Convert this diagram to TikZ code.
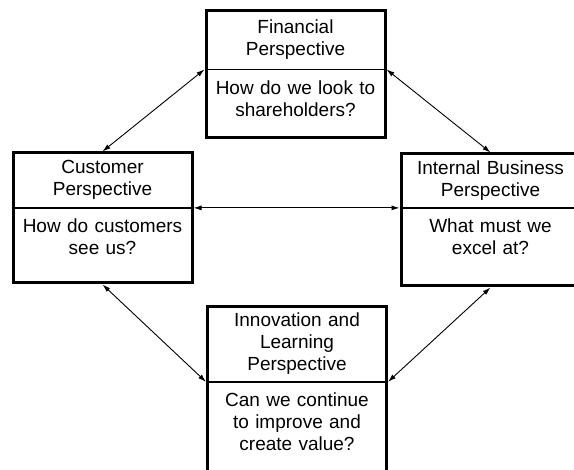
\documentclass[tikz,border=0pt]{standalone}
\usepackage{fontspec}
\setmainfont{Liberation Sans}
\usetikzlibrary{positioning, arrows.meta}
\tikzset{every node/.style={font=\fontsize{19}{22}\selectfont}}

\begin{document}
\begin{tikzpicture}[x=1pt, y=-1pt]
    % Define styles
    \tikzstyle{boxframe} = [rectangle, draw=black, line width=3pt, minimum width=179pt]
    \tikzstyle{headpart} = [rectangle, minimum width=179pt, text width=172pt, align=center, inner sep=0pt]
    \tikzstyle{askpart} = [rectangle, text width=172pt, align=center, inner xsep=0pt, inner ysep=11pt]
    \tikzstyle{divider} = [line width=1.3pt]
    \tikzstyle{arrow} = [line width=0.9pt, {Latex[length=8pt,width=5pt]}-{Latex[length=8pt,width=5pt]}]

    \useasboundingbox (0,0) rectangle (574,470);
    \clip (0,0) rectangle (574,470);

    % Top: Financial
    \node (financial) [boxframe, minimum height=127pt] at (295.5,74) {};
    \node (financial_head) [headpart, minimum height=60pt, below=0pt of financial.north] {Financial\\Perspective};
    \node (financial_ask) [askpart, below=0pt of financial_head] {How do we look to\\shareholders?};

    % Left: Customer
    \node (customer) [boxframe, minimum height=130pt] at (102.5,218) {};
    \node (customer_head) [headpart, minimum height=56pt, below=0pt of customer.north] {Customer\\Perspective};
    \node (customer_ask) [askpart, below=0pt of customer_head] {How do customers\\see us?};

    % Right: Internal Business
    \node (internal) [boxframe, minimum height=132pt] at (490.5,220) {};
    \node (internal_head) [headpart, minimum height=55pt, below=0pt of internal.north] {Internal Business\\Perspective};
    \node (internal_ask) [askpart, below=0pt of internal_head] {What must we\\excel at?};

    % Bottom: Innovation and Learning
    \node (innovation) [boxframe, minimum height=165pt] at (297,389.5) {};
    \node (innovation_head) [headpart, minimum height=76pt, below=0pt of innovation.north] {Innovation and\\Learning\\Perspective};
    \node (innovation_ask) [askpart, below=0pt of innovation_head] {Can we continue\\to improve and\\create value?};

    % Divider ends
    \coordinate (financial_w) at (financial_head.south -| financial.west);
    \coordinate (financial_e) at (financial_head.south -| financial.east);
    \coordinate (customer_w) at (customer_head.south -| customer.west);
    \coordinate (customer_e) at (customer_head.south -| customer.east);
    \coordinate (internal_w) at (internal_head.south -| internal.west);
    \coordinate (internal_e) at (internal_head.south -| internal.east);
    \coordinate (innovation_w) at (innovation_head.south -| innovation.west);
    \coordinate (innovation_e) at (innovation_head.south -| innovation.east);

    % Dividers
    \draw [divider] (financial_w) -- (financial_e);
    \draw [divider] (customer_w) -- (customer_e);
    \draw [divider] (internal_w) -- (internal_e);
    \draw [divider] (innovation_w) -- (innovation_e);

    % Arrows
    \draw [arrow] (financial_w) -- (customer.north);
    \draw [arrow] (financial_e) -- (internal.north);
    \draw [arrow] (customer_e) -- (internal_w);
    \draw [arrow] (customer.south) -- (innovation_w);
    \draw [arrow] (internal.south) -- (innovation_e);
\end{tikzpicture}
\end{document}
